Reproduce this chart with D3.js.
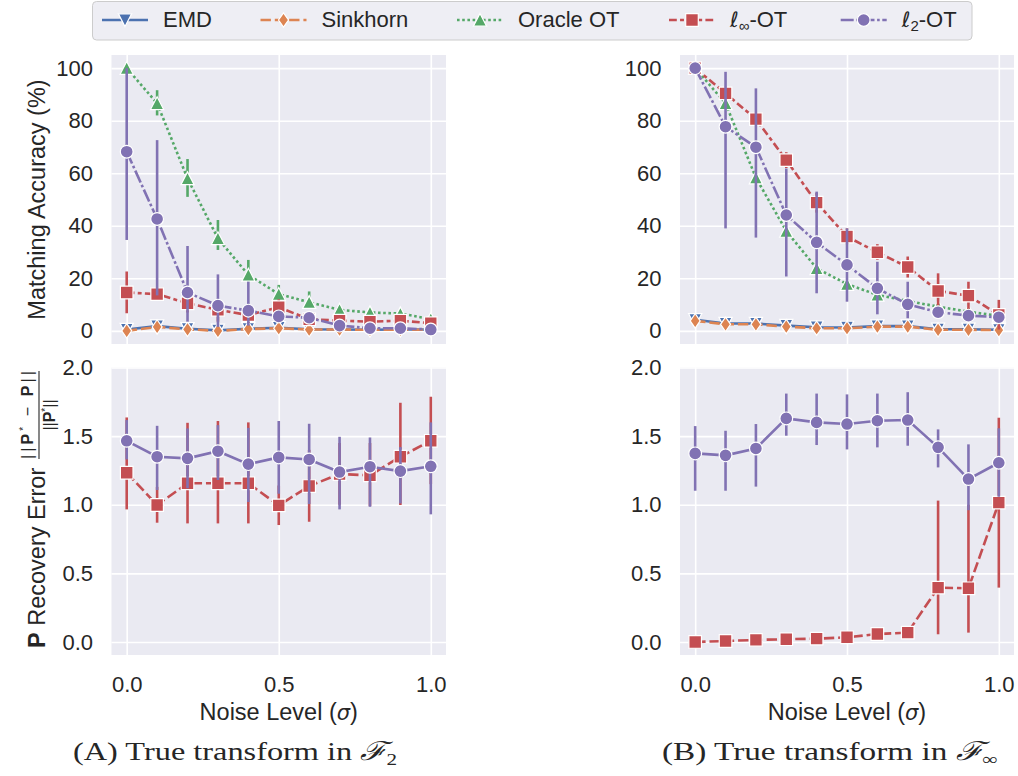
<!DOCTYPE html>
<html><head><meta charset="utf-8">
<script src="https://cdn.jsdelivr.net/npm/d3@7"></script>
<style>
body{margin:0;background:#fff}
svg{display:block}
text{font-family:"Liberation Sans",Arial,Helvetica,sans-serif;fill:#262626}
</style>
</head><body>
<svg id="c" width="1018" height="776"></svg>
<script>
// ---------------- data ----------------
const noise = [0, 0.1, 0.2, 0.3, 0.4, 0.5, 0.6, 0.7, 0.8, 0.9, 1.0];
const methods = ["EMD", "Sinkhorn", "Oracle OT", "ℓ∞-OT", "ℓ2-OT"];
const accTicks = [0, 20, 40, 60, 80, 100];
const errTicks = [0, 0.5, 1.0, 1.5, 2.0];
const xTicks = [0, 0.5, 1.0];
const captions = ["(A) True transform in ", "(B) True transform in "];
const captionSubs = ["2", "∞"];

// (A) matching accuracy (%)
const accA_emd      = [0.5, 1.8, 0.8, 0.2, 0.8, 1.2, 0.6, 0.5, 0.4, 0.5, 0.5];
const accA_sink     = [0.0, 1.5, 0.6, 0.0, 0.7, 1.0, 0.5, 0.5, 0.4, 0.4, 0.4];
const accA_oracle   = [100, 86.6, 58.0, 35.2, 21.3, 14.0, 10.9, 8.0, 7.0, 6.6, 4.5];
const accA_oracleLo = [100, 82.0, 51.0, 30.8, 18.7, 11.5, 8.5, 6.5, 5.8, 5.5, 3.5];
const accA_oracleHi = [100, 91.6, 65.4, 42.2, 27.0, 17.5, 15.0, 9.9, 8.2, 7.9, 5.5];
const accA_linf     = [14.6, 14.0, 10.5, 8.0, 6.0, 9.0, 4.4, 3.9, 3.5, 3.9, 2.9];
const accA_linfLo   = [6.7, 11.5, 7.0, 3.5, 3.0, 6.0, 2.5, 2.5, 2.2, 2.5, 1.8];
const accA_linfHi   = [22.6, 16.5, 13.5, 11.5, 9.0, 12.0, 6.5, 5.3, 4.8, 5.3, 4.0];
const accA_l2       = [68.2, 42.6, 14.6, 9.6, 7.7, 5.5, 5.0, 2.0, 1.0, 1.0, 0.5];
const accA_l2Lo     = [34.6, 13.5, 3.5, 1.5, 2.0, 3.0, 3.0, 0.8, 0.3, 0.3, 0.0];
const accA_l2Hi     = [100, 72.6, 32.3, 21.5, 18.7, 8.0, 7.0, 3.5, 1.8, 1.8, 1.0];

// (B) matching accuracy (%)
const accB_emd      = [4.2, 2.8, 2.8, 2.0, 1.4, 1.3, 1.8, 1.8, 0.6, 0.6, 0.4];
const accB_sink     = [3.8, 2.5, 2.5, 1.6, 1.0, 1.0, 1.6, 1.6, 0.4, 0.4, 0.3];
const accB_oracle   = [100, 86.6, 58.3, 38.0, 23.8, 17.8, 13.7, 11.4, 9.2, 7.3, 5.7];
const accB_oracleLo = [100, 85.0, 56.5, 36.5, 22.5, 16.5, 12.5, 10.4, 8.4, 6.6, 5.1];
const accB_oracleHi = [100, 88.0, 60.0, 39.5, 25.0, 19.0, 14.9, 12.4, 10.0, 8.0, 6.3];
const accB_linf     = [100, 90.4, 80.6, 65.0, 48.8, 35.9, 29.9, 24.3, 15.2, 13.4, 6.1];
const accB_linfLo   = [100, 88.0, 78.0, 62.0, 45.0, 33.0, 27.0, 20.3, 8.5, 8.1, 0.5];
const accB_linfHi   = [100, 93.0, 83.0, 68.0, 52.5, 39.0, 33.0, 28.3, 21.9, 18.7, 11.8];
const accB_l2       = [100, 77.7, 69.9, 44.1, 33.7, 25.1, 16.2, 10.1, 7.1, 5.8, 5.2];
const accB_l2Lo     = [100, 39.0, 35.5, 20.7, 14.3, 11.1, 6.3, 4.8, 4.5, 4.0, 3.5];
const accB_l2Hi     = [100, 98.6, 92.3, 61.8, 53.0, 39.0, 26.3, 18.7, 9.5, 7.5, 7.0];

// (A) P recovery error
const errA_linf   = [1.233, 0.998, 1.156, 1.156, 1.156, 0.995, 1.136, 1.224, 1.214, 1.350, 1.466];
const errA_linfLo = [0.966, 0.869, 0.864, 0.864, 0.864, 0.852, 0.876, 1.000, 0.990, 0.998, 1.150];
const errA_linfHi = [1.636, 1.130, 1.597, 1.610, 1.600, 1.140, 1.400, 1.450, 1.450, 1.743, 1.787];
const errA_l2     = [1.466, 1.350, 1.338, 1.390, 1.296, 1.345, 1.330, 1.238, 1.277, 1.245, 1.280];
const errA_l2Lo   = [1.330, 1.107, 1.120, 1.180, 1.020, 1.080, 1.005, 0.966, 0.985, 1.010, 0.930];
const errA_l2Hi   = [1.617, 1.575, 1.556, 1.580, 1.560, 1.610, 1.590, 1.495, 1.490, 1.420, 1.600];

// (B) P recovery error
const errB_linf   = [0.000, 0.007, 0.015, 0.020, 0.024, 0.034, 0.058, 0.068, 0.396, 0.391, 1.015];
const errB_linfLo = [0.000, 0.000, 0.005, 0.010, 0.014, 0.022, 0.040, 0.050, 0.056, 0.068, 0.396];
const errB_linfHi = [0.000, 0.015, 0.025, 0.030, 0.034, 0.046, 0.076, 0.086, 1.030, 1.000, 1.634];
const errB_l2     = [1.374, 1.360, 1.410, 1.629, 1.600, 1.588, 1.612, 1.617, 1.418, 1.187, 1.306];
const errB_l2Lo   = [1.102, 1.102, 1.132, 1.503, 1.435, 1.403, 1.418, 1.430, 1.272, 0.960, 1.058];
const errB_l2Hi   = [1.573, 1.539, 1.588, 1.810, 1.810, 1.804, 1.810, 1.820, 1.549, 1.440, 1.557];

// ---------------- styles ----------------
const LW = 2.6;
const style = {
  "EMD":       {color: "#4C72B0", dash: null,                  marker: "triDown"},
  "Sinkhorn":  {color: "#DD8452", dash: "10.4,3.9",            marker: "thinDiamond"},
  "Oracle OT": {color: "#55A868", dash: "2.6,2.6",             marker: "triUp"},
  "ℓ∞-OT":     {color: "#C44E52", dash: "7.8,3.25,3.9,3.25",   marker: "square"},
  "ℓ2-OT":     {color: "#8172B3", dash: "13,2.6,2.6,2.6",      marker: "circle"}
};
const bottomDash = {"ℓ∞-OT": "10.4,3.9", "ℓ2-OT": null};

const markerPath = {
  circle: () => { const r = 6.4; return `M${r},0A${r},${r} 0 1,1 ${-r},0A${r},${r} 0 1,1 ${r},0Z`; },
  square: () => { const h = 6.3; return `M${-h},${-h}H${h}V${h}H${-h}Z`; },
  triUp: () => "M0,-6.6L6.6,6.2L-6.6,6.2Z",
  triDown: () => "M0,6.6L6.6,-6.2L-6.6,-6.2Z",
  thinDiamond: () => "M0,-7.2L5,0L0,7.2L-5,0Z"
};

// ---------------- layout ----------------
const svg = d3.select("#c");
const TICK_FS = 22, LABEL_FS = 23.5;
const cols = [{x0: 111.5, x1: 446}, {x0: 680, x1: 1014}];
const rows = [{y0: 344, y1: 55, dom: [-5, 105], ticks: accTicks, fmt: d3.format("d")},
              {y0: 655, y1: 367.5, dom: [-0.095, 2.0], ticks: errTicks, fmt: d3.format(".1f")}];

function series(name, mean, lo, hi) {
  return {name, pts: noise.map((n, i) => ({x: n, v: mean[i], lo: lo ? lo[i] : null, hi: hi ? hi[i] : null}))};
}

const panels = [
  {c: 0, r: 0, series: [
    series("EMD", accA_emd), series("Sinkhorn", accA_sink),
    series("Oracle OT", accA_oracle, accA_oracleLo, accA_oracleHi),
    series("ℓ∞-OT", accA_linf, accA_linfLo, accA_linfHi),
    series("ℓ2-OT", accA_l2, accA_l2Lo, accA_l2Hi)]},
  {c: 1, r: 0, series: [
    series("EMD", accB_emd), series("Sinkhorn", accB_sink),
    series("Oracle OT", accB_oracle, accB_oracleLo, accB_oracleHi),
    series("ℓ∞-OT", accB_linf, accB_linfLo, accB_linfHi),
    series("ℓ2-OT", accB_l2, accB_l2Lo, accB_l2Hi)]},
  {c: 0, r: 1, series: [
    series("ℓ∞-OT", errA_linf, errA_linfLo, errA_linfHi),
    series("ℓ2-OT", errA_l2, errA_l2Lo, errA_l2Hi)]},
  {c: 1, r: 1, series: [
    series("ℓ∞-OT", errB_linf, errB_linfLo, errB_linfHi),
    series("ℓ2-OT", errB_l2, errB_l2Lo, errB_l2Hi)]}
];

panels.forEach(p => {
  const col = cols[p.c], row = rows[p.r];
  const x = d3.scaleLinear().domain([-0.05, 1.05]).range([col.x0, col.x1]);
  const y = d3.scaleLinear().domain(row.dom).range([row.y0, row.y1]);
  const g = svg.append("g");
  g.append("rect").attr("x", col.x0).attr("y", row.y1)
    .attr("width", col.x1 - col.x0).attr("height", row.y0 - row.y1).attr("fill", "#EAEAF2");

  const ya = d3.axisLeft(y).tickValues(row.ticks).tickFormat(row.fmt)
    .tickSize(-(col.x1 - col.x0)).tickPadding(18.5);
  g.append("g").attr("transform", `translate(${col.x0},0)`).call(ya)
    .call(s => {
      s.select(".domain").remove();
      s.attr("font-size", TICK_FS).attr("font-family", '"Liberation Sans",Arial,sans-serif');
      s.selectAll("line").attr("stroke", "#fff").attr("stroke-width", 1.6);
      s.selectAll("text").attr("fill", "#262626");
    });
  const xa = d3.axisBottom(x).tickValues(xTicks)
    .tickFormat(p.r === 1 ? d3.format(".1f") : () => "")
    .tickSize(-(row.y0 - row.y1)).tickPadding(21.5);
  g.append("g").attr("transform", `translate(0,${row.y0})`).call(xa)
    .call(s => {
      s.select(".domain").remove();
      s.attr("font-size", TICK_FS).attr("font-family", '"Liberation Sans",Arial,sans-serif');
      s.selectAll("line").attr("stroke", "#fff").attr("stroke-width", 1.6);
      s.selectAll("text").attr("fill", "#262626");
    });

  const line = d3.line().x(d => x(d.x)).y(d => y(d.v));
  p.series.forEach(s => {
    const st = style[s.name];
    const dash = p.r === 1 ? bottomDash[s.name] : st.dash;
    const sg = g.append("g");
    sg.selectAll("line.err").data(s.pts.filter(d => d.lo !== null)).join("line")
      .attr("class", "err")
      .attr("x1", d => x(d.x)).attr("x2", d => x(d.x))
      .attr("y1", d => y(d.lo)).attr("y2", d => y(d.hi))
      .attr("stroke", st.color).attr("stroke-width", LW);
    sg.append("path").datum(s.pts).attr("d", line)
      .attr("fill", "none").attr("stroke", st.color).attr("stroke-width", LW)
      .attr("stroke-dasharray", dash);
    sg.selectAll("path.mk").data(s.pts).join("path").attr("class", "mk")
      .attr("d", markerPath[st.marker]())
      .attr("transform", d => `translate(${x(d.x)},${y(d.v)})`)
      .attr("fill", st.color).attr("stroke", "#fff").attr("stroke-width", 1.2);
  });

  if (p.r === 1) {
    svg.append("text").attr("x", (x(0) + x(1)) / 2).attr("y", 720)
      .attr("text-anchor", "middle").attr("font-size", LABEL_FS)
      .call(t => {
        t.append("tspan").text("Noise Level (");
        t.append("tspan").attr("font-style", "italic").attr("font-family", "DejaVu Sans").attr("font-size", 21).text("σ");
        t.append("tspan").text(")");
      });
  }
});

// y labels
svg.append("text").attr("transform", "translate(45,199.5) rotate(-90)")
  .attr("text-anchor", "middle").attr("font-size", LABEL_FS).text("Matching Accuracy (%)");

const gl = svg.append("g").attr("transform", "translate(45,648) rotate(-90)");
gl.append("text").attr("x", 0).attr("y", 0).attr("font-size", LABEL_FS)
  .call(t => {
    t.append("tspan").attr("font-weight", "bold").text("P");
    t.append("tspan").text(" Recovery Error");
  });
gl.append("text").attr("x", 233).attr("y", -12).attr("text-anchor", "middle").attr("font-size", 16)
  .attr("textLength", 88).attr("lengthAdjust", "spacing")
  .call(t => {
    t.append("tspan").text("||");
    t.append("tspan").attr("font-weight", "bold").text("P");
    t.append("tspan").attr("font-size", 10).attr("dy", -6).text("*");
    t.append("tspan").attr("dy", 6).text(" − ");
    t.append("tspan").attr("font-weight", "bold").text("P");
    t.append("tspan").text("||");
  });
gl.append("line").attr("x1", 189).attr("x2", 277).attr("y1", -6).attr("y2", -6)
  .attr("stroke", "#262626").attr("stroke-width", 1.1);
gl.append("text").attr("x", 233).attr("y", 10).attr("text-anchor", "middle").attr("font-size", 16)
  .call(t => {
    t.append("tspan").text("||");
    t.append("tspan").attr("font-weight", "bold").text("P");
    t.append("tspan").attr("font-size", 10).attr("dy", -6).text("*");
    t.append("tspan").attr("dy", 6).text("||");
  });

// captions
const capX = [73, 662];
const capW = [324, 336];
captions.forEach((c, i) => {
  svg.append("text").attr("x", capX[i]).attr("y", 759.5)
    .attr("font-size", 26).style("font-family", '"Liberation Serif","DejaVu Serif",serif')
    .attr("textLength", capW[i]).attr("lengthAdjust", "spacingAndGlyphs")
    .call(t => {
      t.append("tspan").text(c);
      t.append("tspan").style("font-family", '"DejaVu Serif",serif').attr("font-style", "italic").text("ℱ");
      t.append("tspan").attr("font-size", 17).attr("dy", 5).text(captionSubs[i]);
    });
});

// legend
const lg = svg.append("g");
lg.append("rect").attr("x", 92.5).attr("y", 1.5).attr("width", 879.5).attr("height", 38.5)
  .attr("rx", 4).attr("fill", "#EEEEF4").attr("stroke", "#CCCCCC").attr("stroke-width", 1);
const legX = [102, 260.5, 457, 669, 840.7];
methods.forEach((m, i) => {
  const st = style[m];
  const x0 = legX[i];
  lg.append("line").attr("x1", x0).attr("x2", x0 + 46).attr("y1", 20).attr("y2", 20)
    .attr("stroke", st.color).attr("stroke-width", LW).attr("stroke-dasharray", st.dash);
  lg.append("path").attr("d", markerPath[st.marker]()).attr("transform", `translate(${x0 + 23},20)`)
    .attr("fill", st.color).attr("stroke", "#fff").attr("stroke-width", 1.2);
  const t = lg.append("text").attr("x", x0 + 61).attr("y", 26.5).attr("font-size", 22);
  if (m.startsWith("ℓ")) {
    t.append("tspan").attr("font-family", "DejaVu Sans").attr("font-style", "italic").attr("font-size", 21).text("ℓ");
    t.append("tspan").attr("font-size", 15).attr("dy", 4).text(m === "ℓ∞-OT" ? "∞" : "2");
    t.append("tspan").attr("dy", -4).text("-OT");
  } else {
    t.text(m);
  }
});
</script>
</body></html>
